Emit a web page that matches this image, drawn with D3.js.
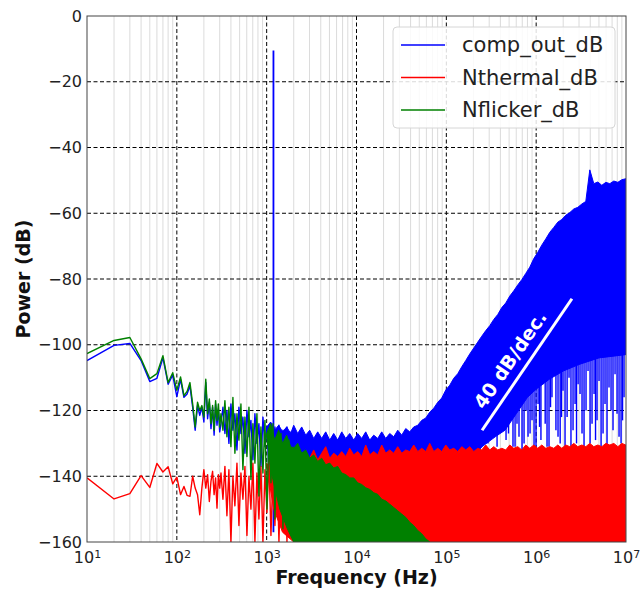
<!DOCTYPE html>
<html>
<head>
<meta charset="utf-8">
<script src="https://cdn.jsdelivr.net/npm/d3@7"></script>
<style>
  body { margin: 0; background: #fff; }
  svg { display: block; font-family: "DejaVu Sans", sans-serif; }
</style>
</head>
<body>
<svg id="chart" width="640" height="591"></svg>
<script>
// ---- data (frequency in Hz, power in dB) ----
const seriesNames = ["comp_out_dB", "Nthermal_dB", "Nflicker_dB"];
const seriesColors = ["#0000ff", "#ff0000", "#008000"];

// low-frequency FFT bins (10 Hz spacing)
const sparseFreq = [10, 20, 30, 40, 50, 60, 70, 80, 90, 100, 110, 120, 130, 140, 150,
  160, 170, 180, 190, 200, 210, 220, 230, 240, 250, 260, 270, 280, 290, 300];
const compSparse = [-104.8, -100.2, -99.6, -104.8, -111.2, -110.2, -104, -112, -109.2, -115.8,
  -110.5, -116, -115, -112.5, -119, -126, -118.5, -121.5, -119, -123.5,
  -111.5, -122.5, -117.5, -125.5, -119, -127.5, -118, -124.5, -119.5, -126.5];
const thermSparse = [-140.5, -146.9, -145.3, -139.8, -143.4, -136.1, -138.7, -137.1, -142.3, -140.3,
  -145.6, -143.1, -145.8, -146.1, -140, -143.6, -145.6, -151.7, -143.6, -138,
  -143.6, -139.5, -147.7, -141.5, -138.5, -145.6, -140.5, -149.7, -139.5, -143.6];
const flickSparse = [-102.7, -98.7, -97.8, -104.3, -110.3, -108.8, -103.3, -111.5, -108.5, -113.8,
  -109.8, -115.5, -114.2, -111.5, -118, -125, -117.5, -120, -118.5, -122,
  -110.5, -121, -116.5, -124, -118.5, -126, -117, -123, -118, -125];

// 300 Hz .. 2 kHz: peaks and troughs of the busy part, still drawn as lines
const midFreq = [310, 326, 343, 361, 380, 400, 421, 443, 467, 491, 517, 544, 573, 603, 635, 668,
  703, 740, 779, 820, 863, 909, 957, 1007, 1060, 1116, 1175, 1236, 1301, 1370, 1442, 1518,
  1598, 1682, 1770, 1863, 1961];
const compMid = [-124, -119, -127, -120, -130, -118, -126, -121, -132, -119, -127, -122, -133, -120,
  -128, -123, -135, -121, -130, -124, -137, -122, -131, -125, -139, -124, -132, -125, -138,
  -124.5, -133, -126, -137, -125, -134, -126.5, -136];
const thermMid = [-139, -147, -137, -152, -138, -160, -140, -149, -136, -155, -139, -147, -137, -158,
  -140, -150, -136, -160, -139, -153, -137, -160, -138, -151, -135, -158, -139, -155, -136,
  -160, -137, -156, -135, -160, -136, -158, -135];
const flickMid = [-121, -126, -117, -128, -119, -131, -116, -133, -121, -129, -118, -138, -122, -134,
  -119, -141, -124, -136, -121, -146, -125, -139, -123, -150, -127, -142, -124, -153, -128,
  -145, -127, -156, -130, -148, -129, -158, -131];

// above 1 kHz the bins are so dense that they fill a band: top edge of each band
const denseFreq = [1000, 1108, 1228, 1360, 1507, 1670, 1850,
  2000, 2216, 2455, 2720, 3014, 3340, 3700, 4100, 4543, 5034, 5577, 6180, 6847,
  7586, 8406, 9314, 10320, 11430, 12670, 14040, 15550, 17230, 19090, 21150, 23440, 25970, 28780,
  31880, 35330, 39140, 43370, 48060, 53250, 59000, 65370, 72430, 80260, 88930, 98530, 109200,
  120900, 134000, 148500, 164500, 182300, 202000, 223800, 248000, 274800, 304400, 337300, 373800,
  414100, 458900, 508400, 563300, 624200, 691600, 766300, 849100, 940800, 1042000, 1155000,
  1280000, 1418000, 1571000, 1741000, 1929000, 2137000, 2368000, 2624000, 2907000, 3221000,
  3569000, 3955000, 4382000, 4856000, 5380000, 5961000, 6605000, 7319000, 8110000, 8986000,
  9957000];
const compTop = [-125, -123.5, -126, -124.5, -126.5, -125, -127,
  -124.5, -127, -125, -127.5, -126, -128.5, -126.5, -128.5, -126.5, -129, -127, -129,
  -126.5, -128.5, -127, -129, -127, -128.5, -126.5, -129, -127.5, -128.5, -126.5, -128.5, -127,
  -128, -126, -127.5, -125.5, -126.5, -125, -124.5, -123, -122.3, -120.5, -119.3, -117.5, -116.2,
  -113.8, -112.3, -110.2, -108.8, -106.7, -104.8, -102.8, -101, -99.2, -97.4, -95.7, -94.2, -92.3,
  -90.8, -88.7, -87.3, -85.2, -83.6, -81.8, -80.2, -78.3, -76.4, -73.8, -71.9, -69.7, -67.8, -65.8,
  -64.3, -62.7, -61.9, -60.6, -59.8, -58.7, -58.2, -57.2, -56.4, -46.8, -51, -50.5, -51.5, -50.6,
  -51, -50.2, -50.6, -49.8, -49.5];
const thermTop = [-136, -138, -135, -137.5, -134.5, -136.5, -134,
  -135, -133, -135.5, -133.5, -134.5, -132, -135, -133, -131, -134.5, -133, -134,
  -132.5, -134, -131.5, -133.5, -132.5, -134, -130.5, -133.5, -132.5, -133.5, -130.5, -133, -132,
  -133, -131, -133, -132, -132.5, -130.5, -132.5, -131.5, -132.5, -130, -132.5, -131.5, -132.5,
  -130.5, -132, -131.5, -132.5, -131, -132, -131, -132.5, -131.5, -132, -130.5, -132, -131, -132,
  -131.5, -132, -130.5, -131.5, -131, -132, -130.5, -131.5, -130.5, -131.5, -130.5, -131.5, -131,
  -131.5, -130.5, -131.5, -130.5, -131, -130, -131, -130.5, -131, -130, -131, -130.5, -131, -130,
  -130.5, -130, -131, -130, -130.5];
const flickTop = [-127, -124, -129, -126, -130, -127.5, -131,
  -131.5, -130, -133, -132, -134.5, -133.5, -135.5, -134.5, -136.5, -136, -137.5,
  -137, -139, -139.5, -140.5, -140.5, -142, -142.5, -143.5, -144, -145, -145.5, -147, -147.5,
  -148.5, -149.5, -150.5, -151.5, -152.5, -154, -155, -156.5, -157.5, -159, -160];

// bottom edges of the bands (they open up from the first dense bin)
const compBottom = [[1000, -126], [1500, -134], [2000, -140], [5000, -142], [100000, -140],
  [200000, -134], [250000, -131], [350000, -128], [450000, -126], [600000, -121], [800000, -116],
  [1000000, -113.5], [1400000, -110.5], [2000000, -108], [3000000, -106], [5000000, -104],
  [10000000, -103]];
const thermBottom = [[1000, -137], [1200, -150], [1500, -157], [2000, -160], [10000000, -160]];
const flickBottom = [[1000, -128], [1150, -140], [1400, -150], [1700, -156], [2000, -160],
  [10000000, -160]];

// single blue bins reaching down into the white gaps: [freq, lowest dB]
const compSpikes = [[291000, -130], [331000, -127], [367000, -131], [417000, -125], [462000, -129],
  [492000, -127], [525000, -122], [552000, -131], [582000, -131], [612000, -124], [644000, -128],
  [696000, -132], [733000, -130], [771000, -120], [812000, -128], [855000, -127], [899000, -123],
  [947000, -131], [996000, -131], [1050000, -118], [1090000, -125], [1130000, -129],
  [1192000, -112], [1260000, -124], [1321000, -131], [1390000, -131], [1445000, -119],
  [1500000, -116], [1580000, -109], [1660000, -126], [1751000, -128], [1850000, -130],
  [1915000, -122], [1990000, -114], [2096000, -131], [2210000, -122], [2322000, -110],
  [2440000, -131], [2573000, -126], [2710000, -118], [2814000, -130], [2930000, -112],
  [3079000, -115], [3240000, -127], [3411000, -131], [3590000, -120], [3779000, -108],
  [3980000, -130], [4187000, -124], [4410000, -115], [4580000, -129], [4760000, -123],
  [5010000, -111], [5280000, -131], [5551000, -127], [5840000, -118], [6150000, -131],
  [6470000, -113], [6814000, -120], [7170000, -126], [7551000, -109], [7950000, -121],
  [8366000, -128], [8810000, -130], [9151000, -123], [9510000, -116]];

// input tone
const toneFreq = 1190;
const toneTop = -10.5;
const toneBottom = -157;

const yTicks = [-160, -140, -120, -100, -80, -60, -40, -20, 0];
const xTicks = [1e1, 1e2, 1e3, 1e4, 1e5, 1e6, 1e7];
const slopeLine = [[250000, -126], [2500000, -86]];
const slopeLabel = "40 dB/dec.";
const slopeLabelAt = [510000, -104.5];

// ---- layout ----
const svg = d3.select("#chart");
const mLeft = 87, mRight = 626, mTop = 16, mBottom = 542;

const x = d3.scaleLog().domain([10, 1e7]).range([mLeft, mRight]);
const y = d3.scaleLinear().domain([-160, 0]).range([mBottom, mTop]);

// minor grid (light solid) then major grid (black dashed)
const minor = x.ticks().filter(t => Math.abs(Math.log10(t) - Math.round(Math.log10(t))) > 1e-9);
svg.append("g").selectAll("line").data(minor).enter().append("line")
  .attr("x1", d => x(d)).attr("x2", d => x(d))
  .attr("y1", mTop).attr("y2", mBottom)
  .attr("stroke", "#d2d2d2").attr("stroke-width", 0.8);

svg.append("g").selectAll("line").data(xTicks.slice(1, -1)).enter().append("line")
  .attr("x1", d => x(d)).attr("x2", d => x(d))
  .attr("y1", mTop).attr("y2", mBottom)
  .attr("stroke", "#000").attr("stroke-width", 1).attr("stroke-dasharray", "4,2.5");

svg.append("g").selectAll("line").data(yTicks.slice(1, -1)).enter().append("line")
  .attr("x1", mLeft).attr("x2", mRight)
  .attr("y1", d => y(d)).attr("y2", d => y(d))
  .attr("stroke", "#000").attr("stroke-width", 1).attr("stroke-dasharray", "4,2.5");

// clip the data to the axes box
svg.append("clipPath").attr("id", "clip").append("rect")
  .attr("x", mLeft).attr("y", mTop).attr("width", mRight - mLeft).attr("height", mBottom - mTop);
const data = svg.append("g").attr("clip-path", "url(#clip)");

const line = d3.line().x(d => x(d[0])).y(d => y(d[1]));

function interp(env, f) {
  const lf = Math.log10(f);
  for (let i = 1; i < env.length; i++) {
    const a = env[i - 1], b = env[i];
    if (f <= b[0]) {
      const t = (lf - Math.log10(a[0])) / (Math.log10(b[0]) - Math.log10(a[0]));
      return a[1] + t * (b[1] - a[1]);
    }
  }
  return env[env.length - 1][1];
}

function drawSeries(color, lowVals, midVals, topVals, bottomEnv) {
  const g = data.append("g");
  // filled band for the dense spectrum
  const top = denseFreq.slice(0, topVals.length).map((f, i) => [f, topVals[i]]);
  const lastF = top[top.length - 1][0];
  const bottom = bottomEnv.filter(d => d[0] < lastF).concat([[lastF, interp(bottomEnv, lastF)]]);
  g.append("path")
    .attr("d", line(top.concat(bottom.reverse())) + "Z")
    .attr("fill", color)
    .attr("stroke", color)
    .attr("stroke-width", 1)
    .attr("stroke-linejoin", "round");
  // low-frequency part as a line
  const pts = sparseFreq.map((f, i) => [f, lowVals[i]])
    .concat(midFreq.map((f, i) => [f, midVals[i]]));
  g.append("path")
    .datum(pts)
    .attr("d", line)
    .attr("fill", "none")
    .attr("stroke", color)
    .attr("stroke-width", 1.4)
    .attr("stroke-linejoin", "round");
  return g;
}

const gBlue = drawSeries(seriesColors[0], compSparse, compMid, compTop, compBottom);
gBlue.append("g").selectAll("line").data(compSpikes).enter().append("line")
  .attr("x1", d => x(d[0])).attr("x2", d => x(d[0]))
  .attr("y1", y(-100)).attr("y2", d => y(d[1]))
  .attr("stroke", seriesColors[0]).attr("stroke-width", 1.4);
gBlue.append("line")
  .attr("x1", x(toneFreq)).attr("x2", x(toneFreq))
  .attr("y1", y(toneTop)).attr("y2", y(toneBottom))
  .attr("stroke", seriesColors[0]).attr("stroke-width", 1.8);
drawSeries(seriesColors[1], thermSparse, thermMid, thermTop, thermBottom);
drawSeries(seriesColors[2], flickSparse, flickMid, flickTop, flickBottom);

// frame
svg.append("rect")
  .attr("x", mLeft).attr("y", mTop).attr("width", mRight - mLeft).attr("height", mBottom - mTop)
  .attr("fill", "none").attr("stroke", "#444").attr("stroke-width", 1);

// axes
const xAxis = svg.append("g")
  .attr("transform", `translate(0,${mBottom})`)
  .call(d3.axisBottom(x).tickValues(xTicks).tickSize(0).tickPadding(10));
xAxis.select(".domain").remove();
xAxis.selectAll(".tick text")
  .attr("font-size", 16).attr("fill", "#222").attr("font-family", "DejaVu Sans")
  .each(function (d) {
    const t = d3.select(this);
    t.text(null);
    t.append("tspan").text("10");
    t.append("tspan").attr("dy", "-0.45em").attr("font-size", 11).text(Math.round(Math.log10(d)));
  });

const yAxis = svg.append("g")
  .attr("transform", `translate(${mLeft},0)`)
  .call(d3.axisLeft(y).tickValues(yTicks).tickSize(0).tickPadding(5));
yAxis.select(".domain").remove();
yAxis.selectAll(".tick text")
  .attr("font-size", 16).attr("fill", "#222").attr("font-family", "DejaVu Sans");

svg.append("text")
  .attr("x", (mLeft + mRight) / 2).attr("y", 584)
  .attr("text-anchor", "middle")
  .attr("font-size", 19).attr("font-weight", "bold").attr("fill", "#111")
  .text("Frequency (Hz)");

svg.append("text")
  .attr("transform", `translate(30,${(mTop + mBottom) / 2}) rotate(-90)`)
  .attr("text-anchor", "middle")
  .attr("font-size", 19).attr("font-weight", "bold").attr("fill", "#111")
  .text("Power (dB)");

// 40 dB/dec annotation
svg.append("path")
  .attr("d", line(slopeLine))
  .attr("stroke", "#fff").attr("stroke-width", 3).attr("fill", "none");
const p0 = [x(slopeLine[0][0]), y(slopeLine[0][1])], p1 = [x(slopeLine[1][0]), y(slopeLine[1][1])];
const ang = Math.atan2(p1[1] - p0[1], p1[0] - p0[0]) * 180 / Math.PI;
svg.append("text")
  .attr("transform", `translate(${x(slopeLabelAt[0])},${y(slopeLabelAt[1])}) rotate(${ang})`)
  .attr("text-anchor", "middle").attr("dominant-baseline", "central")
  .attr("font-size", 19).attr("font-weight", "bold").attr("fill", "#fff")
  .text(slopeLabel);

// legend
const legend = svg.append("g").attr("transform", "translate(393,27)");
legend.append("rect")
  .attr("width", 222).attr("height", 101).attr("rx", 4)
  .attr("fill", "#fff").attr("fill-opacity", 0.85)
  .attr("stroke", "#d6d6d6").attr("stroke-width", 1);
seriesNames.forEach((name, i) => {
  const row = legend.append("g").attr("transform", `translate(0,${18 + i * 32.5})`);
  row.append("line").attr("x1", 8).attr("x2", 52).attr("y1", 0).attr("y2", 0)
    .attr("stroke", seriesColors[i]).attr("stroke-width", 1.5);
  row.append("text").attr("x", 69).attr("y", 0).attr("dy", "0.35em")
    .attr("font-size", 21).attr("fill", "#222").text(name);
});
</script>
</body>
</html>
